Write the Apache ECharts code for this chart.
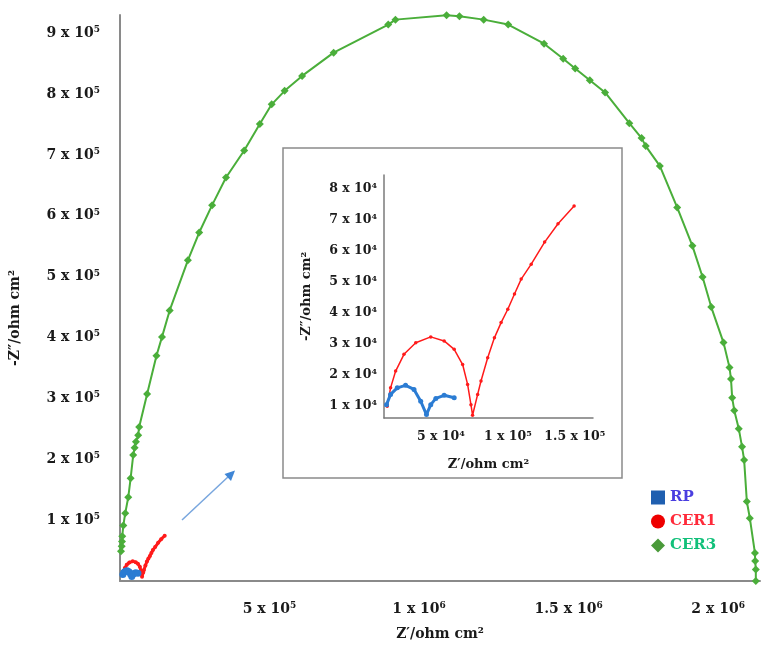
<!DOCTYPE html>
<html>
<head>
<meta charset="utf-8">
<script src="https://cdn.jsdelivr.net/npm/echarts@6/dist/echarts.min.js"></script>
<style>html,body{margin:0;padding:0;background:#fff}#c{width:763px;height:646px}</style>
</head>
<body>
<div id="c"></div>
<script>
// ---- Data ----
const cer3X = [3300, 5600, 6600, 7600, 11000, 17600, 27600, 35500, 44200, 48800, 53200, 60800, 64100, 90700, 121900, 140500, 166100, 226900, 264800, 308000, 354500, 415300, 467400, 507300, 550500, 609000, 714300, 897000, 921000, 1092000, 1135000, 1216000, 1298000, 1418000, 1482000, 1522000, 1571000, 1622000, 1703000, 1744000, 1758000, 1805000, 1863000, 1914000, 1948000, 1977000, 2018000, 2038000, 2043000, 2047000, 2054000, 2069000, 2080000, 2087000, 2096000, 2106000, 2123000, 2124000, 2126000, 2126000];
const cer3Y = [49000, 57000, 65000, 73500, 91000, 111500, 137600, 168700, 206900, 218800, 228600, 239500, 253100, 307400, 370100, 401100, 444600, 526900, 572600, 617600, 662900, 707400, 751000, 783200, 805400, 829900, 868100, 914300, 922400, 929500, 927800, 922400, 914300, 882800, 858000, 842000, 822900, 802800, 752200, 727700, 714600, 682000, 613900, 550700, 499600, 450100, 391800, 351000, 331900, 300900, 280300, 250300, 220400, 198700, 130600, 103300, 46200, 32700, 19100, 0];
const cer1X = [10000, 12500, 16300, 22500, 31300, 42500, 52500, 60000, 66300, 70000, 72500, 73700, 77500, 80000, 85000, 90000, 95000, 100000, 105000, 110000, 117500, 127500, 137500, 149500];
const cer1Y = [10000, 15900, 21300, 26700, 30400, 32300, 31000, 28300, 23400, 17000, 10500, 7100, 13800, 18100, 25600, 32000, 36900, 41200, 46100, 50900, 55700, 62800, 68700, 74400];
const rpX = [9500, 12500, 17500, 23700, 30000, 35000, 39300, 42500, 46300, 52500, 60000];
const rpY = [10500, 13800, 15900, 16700, 15400, 11600, 7300, 10500, 12500, 13500, 12700];

const seriesNames = ['RP', 'CER1', 'CER3'];

const mainXTicks = [500000, 1000000, 1500000, 2000000];
const mainXTickLabels = ['5 x 10^5', '1 x 10^6', '1.5 x 10^6', '2 x 10^6'];
const mainYTicks = [100000, 200000, 300000, 400000, 500000, 600000, 700000, 800000, 900000];
const mainYTickLabels = ['1 x 10^5', '2 x 10^5', '3 x 10^5', '4 x 10^5', '5 x 10^5', '6 x 10^5', '7 x 10^5', '8 x 10^5', '9 x 10^5'];
const insetXTicks = [50000, 100000, 150000];
const insetXTickLabels = ['5 x 10^4', '1 x 10^5', '1.5 x 10^5'];
const insetYTicks = [10000, 20000, 30000, 40000, 50000, 60000, 70000, 80000];
const insetYTickLabels = ['1 x 10^4', '2 x 10^4', '3 x 10^4', '4 x 10^4', '5 x 10^4', '6 x 10^4', '7 x 10^4', '8 x 10^4'];

const xTitle = 'Z\u2032/ohm cm\u00B2';
const yTitle = '-Z\u2033/ohm cm\u00B2';

// ---- Build ----
const zip = (xs, ys) => xs.map((x, i) => [x, ys[i]]);
const FONT = 'DejaVu Serif';
const TXT = '#1a1a1a';

function supFormatter(ticks, labels) {
  return function (v) {
    const i = ticks.indexOf(v);
    if (i < 0) return '';
    const p = labels[i].split('^');
    return '{b|' + p[0] + '}{s|' + p[1] + '}';
  };
}
function richSet(size) {
  return {
    b: { fontFamily: FONT, fontWeight: 'bold', fontSize: size, color: TXT },
    s: { fontFamily: FONT, fontWeight: 'bold', fontSize: Math.round(size * 0.66), color: TXT, padding: [0, 0, Math.round(size * 0.5), 0] }
  };
}
const mainAxisLine = { show: true, lineStyle: { color: '#8a8a8a', width: 2 } };
const insetAxisLine = { show: true, lineStyle: { color: '#7a7a7a', width: 1.5 } };

const GREEN = '#4aae3a', RED = '#ff1a1a', BLUE = '#2b7cd3';

const option = {
  backgroundColor: '#fff',
  animation: false,
  legend: {
    orient: 'vertical',
    left: 646, top: 485,
    itemWidth: 14, itemHeight: 14, itemGap: 9,
    data: [
      { name: 'RP', icon: 'rect', itemStyle: { color: '#1f5fb0' }, textStyle: { color: '#4a3ee0' } },
      { name: 'CER1', icon: 'circle', itemStyle: { color: '#ee0000' }, textStyle: { color: '#ff2a3a' } },
      { name: 'CER3', icon: 'diamond', itemStyle: { color: '#4a9a3a' }, textStyle: { color: '#12c07a' } }
    ],
    textStyle: { fontFamily: FONT, fontWeight: 'bold', fontSize: 15 }
  },
  grid: [
    { left: 120, top: 15, width: 643, height: 570 },
    { left: 384, top: 175, width: 209, height: 243 }
  ],
  xAxis: [
    {
      gridIndex: 0, type: 'value', min: 0, max: 2140000, interval: 500000,
      axisLine: mainAxisLine, axisTick: { show: false }, splitLine: { show: false },
      axisLabel: { margin: 20, formatter: supFormatter(mainXTicks, mainXTickLabels), rich: richSet(14) },
      name: xTitle, nameLocation: 'middle', nameGap: 46,
      nameTextStyle: { fontFamily: FONT, fontWeight: 'bold', fontSize: 14, color: TXT }
    },
    {
      gridIndex: 1, type: 'value', min: 7600, max: 163600,
      axisLine: insetAxisLine, axisTick: { show: false }, splitLine: { show: false },
      axisLabel: { margin: 12, customValues: insetXTicks, formatter: supFormatter(insetXTicks, insetXTickLabels), rich: richSet(12.5) },
      name: xTitle, nameLocation: 'middle', nameGap: 40,
      nameTextStyle: { fontFamily: FONT, fontWeight: 'bold', fontSize: 13, color: TXT }
    }
  ],
  yAxis: [
    {
      gridIndex: 0, type: 'value', min: 0, max: 930000, interval: 100000,
      axisLine: mainAxisLine, axisTick: { show: false }, splitLine: { show: false },
      axisLabel: { margin: 20, formatter: supFormatter(mainYTicks, mainYTickLabels), rich: richSet(14) },
      name: yTitle, nameLocation: 'middle', nameGap: 98, nameRotate: 90,
      nameTextStyle: { fontFamily: FONT, fontWeight: 'bold', fontSize: 14, color: TXT, padding: [0, 40, 0, 0] }
    },
    {
      gridIndex: 1, type: 'value', min: 6200, max: 84400,
      axisLine: insetAxisLine, axisTick: { show: false }, splitLine: { show: false },
      axisLabel: { margin: 7, customValues: insetYTicks, formatter: supFormatter(insetYTicks, insetYTickLabels), rich: richSet(12.5) },
      name: yTitle, nameLocation: 'middle', nameGap: 71, nameRotate: 90,
      nameTextStyle: { fontFamily: FONT, fontWeight: 'bold', fontSize: 13, color: TXT }
    }
  ],
  series: [
    { name: 'CER3', type: 'line', xAxisIndex: 0, yAxisIndex: 0, data: zip(cer3X, cer3Y),
      symbol: 'diamond', symbolSize: 8, color: GREEN, lineStyle: { width: 2, color: GREEN }, itemStyle: { color: GREEN }, z: 3 },
    { name: 'CER1', type: 'line', xAxisIndex: 0, yAxisIndex: 0, data: zip(cer1X, cer1Y),
      symbol: 'circle', symbolSize: 4, color: RED, lineStyle: { width: 3, color: RED }, itemStyle: { color: RED }, z: 4 },
    { name: 'RP', type: 'line', xAxisIndex: 0, yAxisIndex: 0, data: zip(rpX, rpY),
      symbol: 'circle', symbolSize: 7, color: BLUE, lineStyle: { width: 4, color: BLUE }, itemStyle: { color: BLUE }, z: 5 },
    { name: 'CER1', type: 'line', xAxisIndex: 1, yAxisIndex: 1, data: zip(cer1X, cer1Y),
      symbol: 'circle', symbolSize: 3.5, color: RED, lineStyle: { width: 1.5, color: RED }, itemStyle: { color: RED }, z: 4 },
    { name: 'RP', type: 'line', xAxisIndex: 1, yAxisIndex: 1, data: zip(rpX, rpY),
      symbol: 'circle', symbolSize: 5, color: BLUE, lineStyle: { width: 3, color: BLUE }, itemStyle: { color: BLUE }, z: 5 }
  ],
  graphic: [
    { type: 'rect', shape: { x: 283, y: 148, width: 339, height: 330 }, style: { fill: null, stroke: '#8a8a8a', lineWidth: 1.5 }, z: 1 },
    { type: 'line', shape: { x1: 182, y1: 520, x2: 229, y2: 476 }, style: { stroke: '#78a6de', lineWidth: 1.5 }, z: 1 },
    { type: 'polygon', shape: { points: [[235, 470.5], [224.5, 474], [231, 481]] }, style: { fill: '#3f86d6' }, z: 1 }
  ]
};

const chart = echarts.init(document.getElementById('c'), null, { renderer: 'canvas' });
chart.setOption(option);
</script>
</body>
</html>
